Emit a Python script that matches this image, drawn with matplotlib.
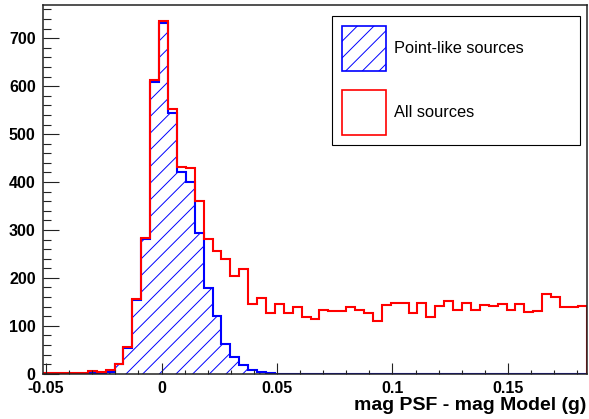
import numpy as np
import matplotlib
matplotlib.use('Agg')
import matplotlib.pyplot as plt
from matplotlib.patches import Patch
from matplotlib.ticker import MultipleLocator

# ---- data -----------------------------------------------------------------
bin_lo = -0.0512
bin_hi = 0.1841
n_bins = 61

all_sources = [1, 2, 1, 2, 2, 6, 4, 8, 21, 56,
               155, 283, 613, 735, 552, 432, 430, 360, 281, 256,
               239, 204, 218, 145, 159, 126, 145, 126, 139, 118,
               115, 133, 130, 131, 140, 133, 126, 111, 143, 147,
               147, 127, 147, 119, 141, 151, 133, 147, 133, 144,
               142, 145, 132, 146, 129, 131, 167, 161, 139, 140,
               142]

point_like = [0, 0, 0, 0, 0, 1, 1, 4, 20, 54,
              153, 281, 609, 731, 545, 420, 401, 294, 178, 120,
              63, 35, 19, 8, 3, 1, 0, 0, 0, 0,
              0, 0, 0, 0, 0, 0, 0, 0, 0, 0,
              0, 0, 0, 0, 0, 0, 0, 0, 0, 0,
              0, 0, 0, 0, 0, 0, 0, 0, 0, 0,
              0]

series_labels = ["Point-like sources", "All sources"]
x_label = "mag PSF - mag Model (g)"
x_ticks = [-0.05, 0.0, 0.05, 0.1, 0.15]
x_tick_labels = ["-0.05", "0", "0.05", "0.1", "0.15"]
y_ticks = [0, 100, 200, 300, 400, 500, 600, 700]
y_tick_labels = ["0", "100", "200", "300", "400", "500", "600", "700"]
y_max = 770

# ---- style ----------------------------------------------------------------
plt.rcParams['font.family'] = ['Liberation Sans', 'DejaVu Sans']
plt.rcParams['hatch.linewidth'] = 0.7
plt.rcParams['hatch.color'] = 'blue'

edges = np.linspace(bin_lo, bin_hi, n_bins + 1)

fig = plt.figure(figsize=(5.89, 4.19), dpi=100)
ax = fig.add_axes([0.0735, 0.1081, 0.9226, 0.8807])

# hatched fill for point-like sources
ax.stairs(point_like, edges, fill=True, facecolor='none', edgecolor='blue',
          hatch='//', linewidth=0)
ax.stairs(point_like, edges, color='blue', linewidth=1.5)
ax.stairs(all_sources, edges, color='red', linewidth=1.5)

ax.set_xlim(bin_lo, bin_hi)
ax.set_ylim(0, y_max)
ax.set_xticks(x_ticks, x_tick_labels)
ax.set_yticks(y_ticks, y_tick_labels)
ax.xaxis.set_minor_locator(MultipleLocator(0.01))
ax.yaxis.set_minor_locator(MultipleLocator(20))

ax.tick_params(which='both', direction='in', top=False, right=False,
               color='#222222')
ax.tick_params(axis='y', which='major', length=11.5, width=0.8, pad=5.5,
               labelsize=11.5)
ax.tick_params(axis='y', which='minor', length=5.8, width=0.8)
ax.tick_params(axis='x', which='major', length=7.7, width=0.8, pad=5.0,
               labelsize=11.5)
ax.tick_params(axis='x', which='minor', length=3.1, width=0.8)
for lab in ax.get_xticklabels() + ax.get_yticklabels():
    lab.set_fontweight('bold')

for sp in ax.spines.values():
    sp.set_color('#222222')
    sp.set_linewidth(1.1)

ax.set_xlabel(x_label, loc='right', fontsize=14, fontweight='bold')
ax.xaxis.set_label_coords(1.0, -0.062)

handles = [Patch(facecolor='white', edgecolor='blue', hatch='//', linewidth=1.2),
           Patch(facecolor='white', edgecolor='red', linewidth=1.2)]
leg = ax.legend(handles, series_labels, loc='upper left',
                bbox_to_anchor=(0.531, 0.0, 0.4567, 0.969), mode='expand',
                borderaxespad=0, fontsize=11.8, handlelength=2.7,
                handleheight=3.85, handletextpad=0.52, labelspacing=1.16,
                borderpad=0.6, fancybox=False, framealpha=1,
                edgecolor='black')
leg.get_frame().set_linewidth(0.8)

fig.savefig('out.png', dpi=100)
